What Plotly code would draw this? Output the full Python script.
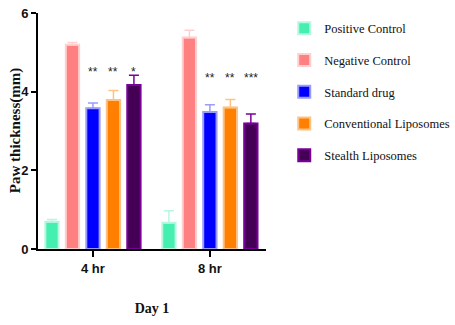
import plotly.graph_objects as go

categories = ["4 hr", "8 hr"]
groups = ["Positive Control", "Negative Control", "Standard drug",
          "Conventional Liposomes", "Stealth Liposomes"]
means = {
    "Positive Control": [0.69, 0.67],
    "Negative Control": [5.19, 5.38],
    "Standard drug": [3.58, 3.48],
    "Conventional Liposomes": [3.79, 3.60],
    "Stealth Liposomes": [4.17, 3.19],
}
errors = {
    "Positive Control": [0.06, 0.30],
    "Negative Control": [0.06, 0.18],
    "Standard drug": [0.13, 0.19],
    "Conventional Liposomes": [0.24, 0.20],
    "Stealth Liposomes": [0.25, 0.24],
}
significance = {
    "4 hr": ["", "", "**", "**", "*"],
    "8 hr": ["", "", "**", "**", "***"],
}
sig_height = {"4 hr": 4.5, "8 hr": 4.35}

fills = ["#44efb0", "#ff8080", "#0000ff", "#ff8000", "#440055"]
borders = ["#b8f7df", "#ffd0d0", "#9a9aff", "#ffc285", "#7a0099"]

fig = go.Figure()
for g, fc, bc in zip(groups, fills, borders):
    fig.add_trace(go.Bar(
        name=g, x=categories, y=means[g], legendgroup=g,
        marker=dict(color=fc, line=dict(color=bc, width=2)),
        error_y=dict(type="data", array=errors[g], arrayminus=[0, 0],
                     symmetric=False, color=bc, thickness=1.5, width=5),
    ))

slot_px = 20.5
for cat in categories:
    for i, s in enumerate(significance[cat]):
        if s:
            fig.add_annotation(x=cat, y=sig_height[cat], text=s, showarrow=False,
                               xshift=(i - 2) * slot_px,
                               font=dict(family="Liberation Sans, Arial", size=12, color="#222"))

serif = "Liberation Serif, Times New Roman, serif"
narrow = "Liberation Sans Narrow, Arial Narrow, Liberation Sans"

# y-axis title as a rotated annotation for exact placement
fig.add_annotation(xref="paper", yref="paper", x=-0.1, y=0.5, text="<b>Paw thickness(mm)</b>",
                   textangle=-90, showarrow=False, xanchor="center", yanchor="middle",
                   font=dict(family=serif, size=15, color="#111"))

fig.update_layout(
    width=455, height=325,
    margin=dict(l=38, r=189, t=13, b=76, autoexpand=False),
    paper_bgcolor="white", plot_bgcolor="white",
    barmode="group", bargap=0.124, bargroupgap=0.35,
    showlegend=True,
    legend=dict(x=1.08, y=0.997, xanchor="left", yanchor="top",
                font=dict(family=serif, size=12.5, color="#111"),
                tracegroupgap=12.5, itemwidth=30, bgcolor="rgba(0,0,0,0)"),
    xaxis=dict(range=[-0.47, 1.48], showline=True, linecolor="black", linewidth=2,
               ticks="outside", ticklen=6, tickwidth=1.5, tickcolor="black", automargin=False,
               ticklabeloverflow="allow",
               tickfont=dict(family=narrow, size=13, color="#111", weight="bold"),
               title=dict(text="<b>Day 1</b>", standoff=29,
                          font=dict(family=serif, size=14, color="#111"))),
    yaxis=dict(range=[0, 6], tickvals=[0, 2, 4, 6], showline=True, linecolor="black", linewidth=2,
               ticks="outside", ticklen=5, tickwidth=1.5, tickcolor="black", showgrid=False, zeroline=False,
               automargin=False, ticklabeloverflow="allow",
               tickfont=dict(family=narrow, size=13, color="#111", weight="bold")),
)

fig.write_html("out.html", config={"displayModeBar": False},
               post_script="document.body.style.margin='0';")
